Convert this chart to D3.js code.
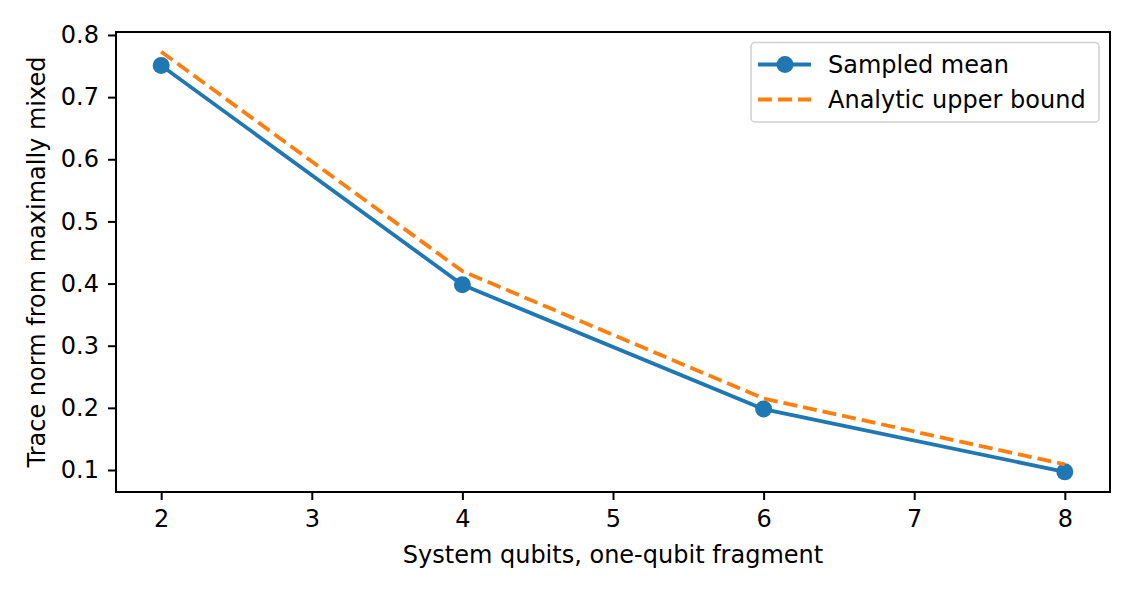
<!DOCTYPE html>
<html><head><meta charset="utf-8">
<script src="https://cdn.jsdelivr.net/npm/d3@7"></script>
<style>body{margin:0;background:#fff}svg{display:block}text{font-family:"DejaVu Sans",sans-serif}</style>
</head><body>
<div id="chart"></div>
<script>
const qubits = [2, 4, 6, 8];
const sampledMean = [0.751, 0.398, 0.198, 0.097];
const upperBound = [0.773, 0.420, 0.215, 0.109];
const xTicks = [2, 3, 4, 5, 6, 7, 8];
const yTicks = [0.1, 0.2, 0.3, 0.4, 0.5, 0.6, 0.7, 0.8];
const seriesNames = ["Sampled mean", "Analytic upper bound"];
const colors = ["#1f77b4", "#ff7f0e"];

const W = 1137, H = 595;
const L = 116, R = 1110, T = 32, B = 492;
const FS = 24;
const LW = 3.8;
const DASH = "14,6";
const svg = d3.select("#chart").append("svg").attr("width", W).attr("height", H);

const x = d3.scaleLinear().domain([1.7, 8.3]).range([L, R]);
const y = d3.scaleLinear().domain([0.0646, 0.8048]).range([B, T]);

const gx = svg.append("g").attr("transform", `translate(0,${B})`)
  .call(d3.axisBottom(x).tickValues(xTicks).tickFormat(d3.format("d")).tickSize(8).tickPadding(10));
const gy = svg.append("g").attr("transform", `translate(${L},0)`)
  .call(d3.axisLeft(y).tickValues(yTicks).tickFormat(d3.format(".1f")).tickSize(8).tickPadding(9));
[gx, gy].forEach(g => {
  g.select(".domain").remove();
  g.selectAll(".tick line").attr("stroke", "#000").attr("stroke-width", 2);
  g.selectAll(".tick text").attr("font-size", FS).attr("fill", "#000").attr("font-family", "DejaVu Sans");
});

const line = d3.line().x((d, i) => x(qubits[i])).y(d => y(d));
svg.append("path").datum(sampledMean).attr("d", line).attr("fill", "none")
  .attr("stroke", colors[0]).attr("stroke-width", LW);
svg.selectAll("circle.m").data(sampledMean).enter().append("circle")
  .attr("cx", (d, i) => x(qubits[i])).attr("cy", d => y(d)).attr("r", 8.5).attr("fill", colors[0]);
svg.append("path").datum(upperBound).attr("d", line).attr("fill", "none")
  .attr("stroke", colors[1]).attr("stroke-width", LW).attr("stroke-dasharray", DASH);

svg.append("rect").attr("x", L).attr("y", T).attr("width", R - L).attr("height", B - T)
  .attr("fill", "none").attr("stroke", "#000").attr("stroke-width", 2);

svg.append("text").attr("x", (L + R) / 2).attr("y", 563).attr("text-anchor", "middle")
  .attr("font-size", FS).text("System qubits, one-qubit fragment");
svg.append("text").attr("transform", `translate(45,${(T + B) / 2}) rotate(-90)`)
  .attr("text-anchor", "middle").attr("font-size", FS).text("Trace norm from maximally mixed");

const lg = svg.append("g");
lg.append("rect").attr("x", 751).attr("y", 42.5).attr("width", 348).attr("height", 79.5)
  .attr("rx", 4).attr("fill", "#fff").attr("fill-opacity", 0.8).attr("stroke", "#d0d0d0").attr("stroke-width", 1.5);
seriesNames.forEach((name, i) => {
  const yy = 64.5 + i * 35;
  lg.append("line").attr("x1", 758).attr("x2", 811).attr("y1", yy).attr("y2", yy)
    .attr("stroke", colors[i]).attr("stroke-width", LW)
    .attr("stroke-dasharray", i === 1 ? DASH : null);
  if (i === 0) lg.append("circle").attr("cx", 785).attr("cy", yy).attr("r", 8.5).attr("fill", colors[0]);
  lg.append("text").attr("x", 828).attr("y", yy + 8.5).attr("font-size", FS).text(name);
});
</script>
</body></html>
